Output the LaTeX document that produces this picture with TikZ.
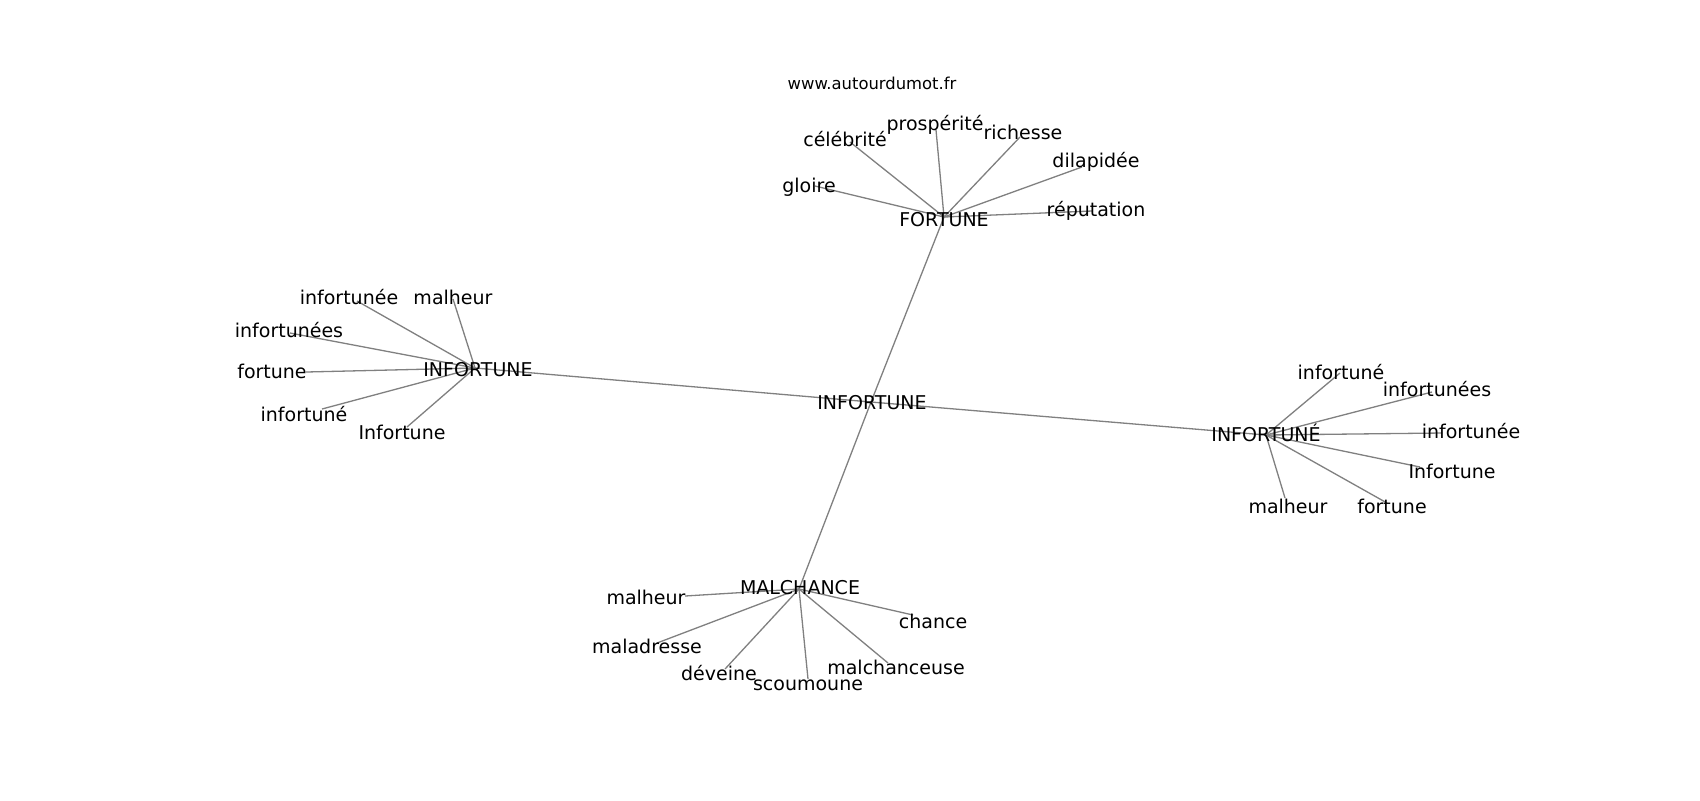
\documentclass[tikz,border=0pt]{standalone}
\usepackage{fontspec}
\setmainfont{DejaVu Sans}
\begin{document}
\begin{tikzpicture}[x=0.5pt,y=-0.5pt,
  edge/.style={draw=black!50,line width=0.65pt},
  lbl/.style={inner sep=0pt,anchor=center,text height=0.73em,text depth=0pt,font=\fontsize{9.5}{11}\selectfont,text=black},
  site/.style={inner sep=0pt,anchor=center,text height=0.73em,text depth=0pt,font=\fontsize{8.2}{10}\selectfont,text=black}]
\useasboundingbox[fill=white] (0,0) rectangle (1700,800);
% hubs
\coordinate (c) at (871,402);
\coordinate (hl) at (475,368);
\coordinate (hr) at (1266,435);
\coordinate (ht) at (944,217);
\coordinate (hb) at (799,589);
% top leaves
\coordinate (t1) at (815,186);
\coordinate (t2) at (850,142);
\coordinate (t3) at (936,130);
\coordinate (t4) at (1020,137);
\coordinate (t5) at (1082,167);
\coordinate (t6) at (1092,211);
% left leaves
\coordinate (l1) at (357,301);
\coordinate (l2) at (453,299);
\coordinate (l3) at (290,333);
\coordinate (l4) at (306,372);
\coordinate (l5) at (322,409);
\coordinate (l6) at (407,427);
% right leaves
\coordinate (r1) at (1340,373);
\coordinate (r2) at (1432,392);
\coordinate (r3) at (1442,433);
\coordinate (r4) at (1420,467);
\coordinate (r5) at (1285,498);
\coordinate (r6) at (1387,503);
% bottom leaves
\coordinate (b1) at (685,596);
\coordinate (b2) at (657,643);
\coordinate (b3) at (725,669);
\coordinate (b4) at (808,679);
\coordinate (b5) at (888,663);
\coordinate (b6) at (913,615);
% edges
\draw[edge] (c) -- (hl);
\draw[edge] (c) -- (hr);
\draw[edge] (c) -- (ht);
\draw[edge] (c) -- (hb);
\foreach \n in {t1,t2,t3,t4,t5,t6} \draw[edge] (ht) -- (\n);
\foreach \n in {l1,l2,l3,l4,l5,l6} \draw[edge] (hl) -- (\n);
\foreach \n in {r1,r2,r3,r4,r5,r6} \draw[edge] (hr) -- (\n);
\foreach \n in {b1,b2,b3,b4,b5,b6} \draw[edge] (hb) -- (\n);
% labels
\node[site] (www) at (872,82) {www.autourdumot.fr};
\node[lbl] (cT) at (872,402) {INFORTUNE};
\node[lbl] (hlT) at (478,369) {INFORTUNE};
\node[lbl] (hrT) at (1266,434) {INFORTUNÉ};
\node[lbl] (htT) at (944,219) {FORTUNE};
\node[lbl] (hbT) at (800,587) {MALCHANCE};
\node[lbl] (t1T) at (809,185) {gloire};
\node[lbl] (t2T) at (845,139) {célébrité};
\node[lbl] (t3T) at (935,123) {prospérité};
\node[lbl] (t4T) at (1023,132) {richesse};
\node[lbl] (t5T) at (1096,160) {dilapidée};
\node[lbl] (t6T) at (1096,209) {réputation};
\node[lbl] (l1T) at (349,297) {infortunée};
\node[lbl] (l2T) at (453,297) {malheur};
\node[lbl] (l3T) at (289,330) {infortunées};
\node[lbl] (l4T) at (272,371) {fortune};
\node[lbl] (l5T) at (304,414) {infortuné};
\node[lbl] (l6T) at (402,432) {Infortune};
\node[lbl] (r1T) at (1341,372) {infortuné};
\node[lbl] (r2T) at (1437,389) {infortunées};
\node[lbl] (r3T) at (1471,431) {infortunée};
\node[lbl] (r4T) at (1452,471) {Infortune};
\node[lbl] (r5T) at (1288,506) {malheur};
\node[lbl] (r6T) at (1392,506) {fortune};
\node[lbl] (b1T) at (646,597) {malheur};
\node[lbl] (b2T) at (647,646) {maladresse};
\node[lbl] (b3T) at (719,673) {déveine};
\node[lbl] (b4T) at (808,683) {scoumoune};
\node[lbl] (b5T) at (896,667) {malchanceuse};
\node[lbl] (b6T) at (933,621) {chance};
\end{tikzpicture}
\end{document}
